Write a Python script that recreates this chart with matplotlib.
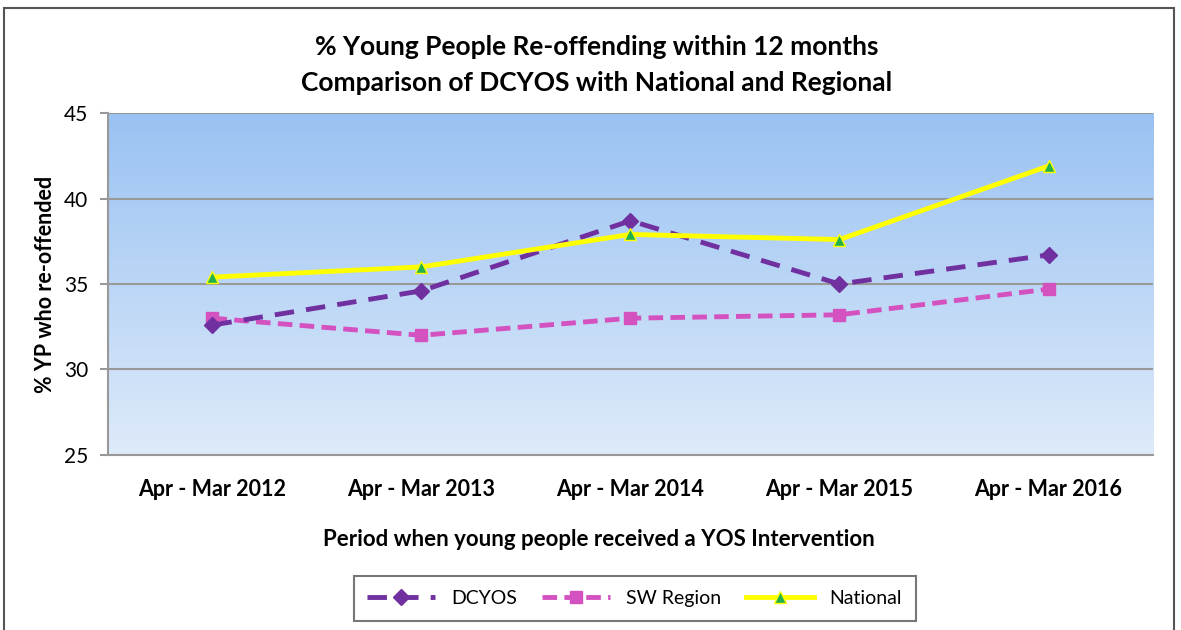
import numpy as np
import matplotlib.pyplot as plt
from matplotlib.patches import Rectangle

plt.rcParams['font.family'] = ['Lato', 'DejaVu Sans']

periods = ['Apr - Mar 2012', 'Apr - Mar 2013', 'Apr - Mar 2014',
           'Apr - Mar 2015', 'Apr - Mar 2016']
dcyos = [32.6, 34.6, 38.7, 35.0, 36.7]
sw_region = [33.0, 32.0, 33.0, 33.2, 34.7]
national = [35.4, 36.0, 37.9, 37.6, 41.9]

fig = plt.figure(figsize=(11.81, 6.30), dpi=100)
ax = fig.add_axes([0.0914, 0.2778, 0.8849, 0.5428])

x = np.arange(len(periods))

# gradient background
grad = np.linspace(0, 1, 256).reshape(-1, 1)
top = np.array([0.60, 0.76, 0.95])
bot = np.array([0.87, 0.92, 0.98])
img = top * (1 - grad[:, :, None]) + bot * grad[:, :, None]
ax.imshow(img, extent=[-0.5, 4.5, 25, 45], aspect='auto', origin='upper', zorder=0)

for yv in [30, 35, 40, 45]:
    ax.axhline(yv, color='#999999', lw=1.5, zorder=1)

ax.plot(x, dcyos, color='#7030a0', lw=3.5, dashes=(4, 2.5), marker='D',
        ms=8, label='DCYOS', zorder=4)
ax.plot(x, sw_region, color='#d452c0', lw=3.5, dashes=(3, 1.5), marker='s',
        ms=8, label='SW Region', zorder=3)
ax.plot(x, national, color='#ffff00', lw=3.5, marker='^', ms=8,
        markerfacecolor='#22b14c', markeredgecolor='#ffff00', mew=1,
        label='National', zorder=5)

ax.set_xlim(-0.5, 4.5)
ax.set_ylim(25, 45)
ax.set_yticks([25, 30, 35, 40, 45])
ax.set_xticks(x)
ax.set_xticklabels(periods, fontsize=15.5, fontweight='bold')
ax.tick_params(axis='y', labelsize=15, length=6, color='#999999', width=1.5, pad=8)
ax.tick_params(axis='x', length=0, pad=17)
for s in ['top', 'right']:
    ax.spines[s].set_visible(False)
for s in ['left', 'bottom']:
    ax.spines[s].set_color('#999999')
    ax.spines[s].set_linewidth(1.5)

ax.set_ylabel('% YP who re-offended', fontsize=15.5, fontweight='bold', labelpad=6)
ax.set_xlabel('Period when young people received a YOS Intervention',
              fontsize=16, fontweight='bold', labelpad=21)
ax.xaxis.label.set_x(0.47)

fig.text(0.505, 0.925, '% Young People Re-offending within 12 months',
         ha='center', va='center', fontsize=19, fontweight='bold')
fig.text(0.505, 0.868, 'Comparison of DCYOS with National and Regional',
         ha='center', va='center', fontsize=19, fontweight='bold')

leg = ax.legend(loc='center', bbox_to_anchor=(0.504, -0.42), ncol=3,
                fontsize=14, frameon=True, fancybox=False, edgecolor='#555555',
                handlelength=3.5, columnspacing=1.3, borderpad=0.7)
leg.get_frame().set_linewidth(1.5)

fig.patches.append(Rectangle((4 / 1181, -0.05), 1170 / 1181, 1.05 - 8 / 630,
                             transform=fig.transFigure, fill=False,
                             edgecolor='#555555', lw=1.5))

fig.savefig('out.png', dpi=100)
